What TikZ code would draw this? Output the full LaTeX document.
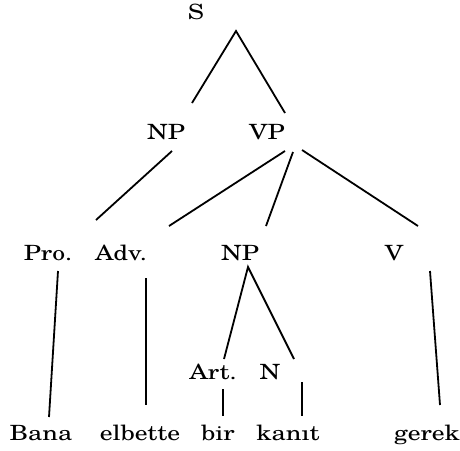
\documentclass[tikz,border=0pt]{standalone}
\usepackage{fontspec}
\usepackage{graphicx}
\setmainfont{TeX Gyre Schola}
\newcommand{\sw}[1]{\scalebox{1.22}[1]{#1}}
\begin{document}
\begin{tikzpicture}[x=1pt,y=-1pt,
  lab/.style={anchor=base,inner sep=0pt,font=\fontsize{21}{25}\selectfont},
  edge/.style={line width=1.8pt}]
\useasboundingbox (0,0) rectangle (460,450);
% labels
\node[lab] (S) at (196,19) {\sw{S}};
\node[lab] (NP) at (166,139) {\sw{NP}};
\node[lab] (VP) at (267,139) {\sw{VP}};
\node[lab] (Pro) at (48,260.5) {\sw{Pro.}};
\node[lab] (Adv) at (121,260.5) {\sw{Adv.}};
\node[lab] (NPb) at (240,260.5) {\sw{NP}};
\node[lab] (V) at (394,260.5) {\sw{V}};
\node[lab] (Art) at (213,379.5) {\sw{Art.}};
\node[lab] (N) at (270,379.5) {\sw{N}};
\node[lab] (Bana) at (41,440.5) {\sw{Bana}};
\node[lab] (elbette) at (140,440.5) {\sw{elbette}};
\node[lab] (bir) at (218,440.5) {\sw{bir}};
\node[lab] (kanit) at (288,440.5) {\sw{kanıt}};
\node[lab] (gerek) at (427,440.5) {\sw{gerek}};
% line end points
\coordinate (sA) at (236,31);
\coordinate (sL) at (192,103);
\coordinate (sR) at (285,113);
\coordinate (npA) at (172,151);
\coordinate (npB) at (96,220);
\coordinate (vpA1) at (285,151);
\coordinate (vpB1) at (169,226);
\coordinate (vpA2) at (293,152);
\coordinate (vpB2) at (266,226);
\coordinate (vpA3) at (302,150);
\coordinate (vpB3) at (418,226);
\coordinate (proA) at (58,271);
\coordinate (proB) at (49,417);
\coordinate (advA) at (146,278);
\coordinate (advB) at (146,405);
\coordinate (np2A) at (248,267);
\coordinate (np2L) at (224,359);
\coordinate (np2R) at (294,359);
\coordinate (artA) at (223,389);
\coordinate (artB) at (223,416);
\coordinate (nA) at (302,382);
\coordinate (nB) at (302,416);
\coordinate (vA) at (430,271);
\coordinate (vB) at (440,405);
% connectors
\draw[edge] (sL) -- (sA) -- (sR);
\draw[edge] (npA) -- (npB);
\draw[edge] (vpA1) -- (vpB1);
\draw[edge] (vpA2) -- (vpB2);
\draw[edge] (vpA3) -- (vpB3);
\draw[edge] (proA) -- (proB);
\draw[edge] (advA) -- (advB);
\draw[edge] (np2L) -- (np2A) -- (np2R);
\draw[edge] (artA) -- (artB);
\draw[edge] (nA) -- (nB);
\draw[edge] (vA) -- (vB);
\end{tikzpicture}
\end{document}
